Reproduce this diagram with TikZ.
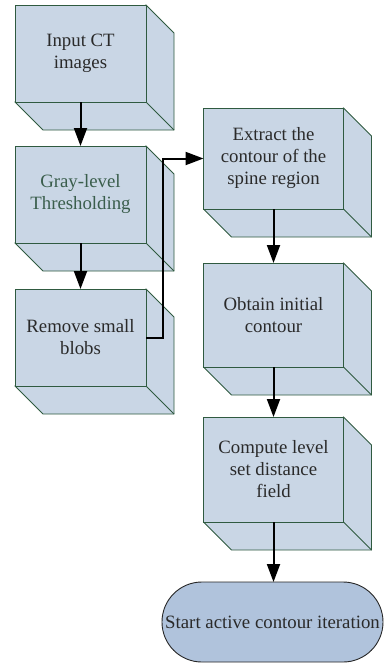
\documentclass[tikz,border=0pt]{standalone}
\usepackage{fontspec}
\setmainfont{Liberation Serif}
\usetikzlibrary{arrows.meta,backgrounds}

\definecolor{facefill}{HTML}{C9D6E5}
\definecolor{faceedge}{HTML}{2F5A40}
\definecolor{termfill}{HTML}{B0C3DC}
\definecolor{bodytext}{HTML}{2A2A2A}
\definecolor{greentext}{HTML}{3A5E4C}

\tikzset{
  stepbox/.style={draw=faceedge, fill=facefill, line width=0.9pt, outer sep=0pt,
    inner sep=2pt, align=center, text=bodytext,
    font=\fontsize{18.8}{22}\selectfont},
  sideface/.style={draw=faceedge, fill=facefill, line width=0.9pt, line join=miter},
  termbox/.style={draw=black!85, fill=termfill, line width=0.9pt, outer sep=0pt,
    rounded corners=39.9pt, inner sep=0pt, text=bodytext,
    font=\fontsize{18.8}{22}\selectfont},
  flow/.style={draw=black, line width=2pt,
    -{Triangle[length=18pt,width=13pt]}},
}

% back faces of an extruded box, offset down and to the right
\newcommand{\extrudebox}[1]{%
  \path[sideface] (#1.north east) -- ([shift={(28pt,-28pt)}]#1.north east)
    -- ([shift={(28pt,-28pt)}]#1.south east)
    -- ([shift={(28pt,-28pt)}]#1.south west) -- (#1.south west) -- cycle;
  \draw[faceedge, line width=0.9pt] (#1.south east) -- ([shift={(28pt,-28pt)}]#1.south east);
}

\begin{document}
\begin{tikzpicture}[x=1pt, y=-1pt]
  \useasboundingbox (0,0) rectangle (384,664);

  % left column
  \node[stepbox, minimum width=131pt, minimum height=97pt] (input) at (80.5,53.5) {Input CT\\images};
  \node[stepbox, minimum width=131pt, minimum height=97pt, text=greentext] (gray) at (80.5,194.5) {Gray-level\\Thresholding};
  \node[stepbox, minimum width=131pt, minimum height=97pt] (blobs) at (80.5,337.5) {Remove small\\blobs};

  % right column
  \node[stepbox, minimum width=140pt, minimum height=101pt] (extract) at (273.5,158.5) {Extract the\\contour of the\\spine region};
  \node[stepbox, minimum width=140pt, minimum height=104pt] (initial) at (273.5,315) {Obtain initial\\contour};
  \node[stepbox, minimum width=140pt, minimum height=105pt] (level) at (273.5,469.5) {Compute level\\set distance\\field};

  % terminator
  \node[termbox, minimum width=221pt, minimum height=80pt] (start) at (272.5,622) {Start active contour iteration};

  \begin{pgfonlayer}{background}
    \foreach \n in {input,gray,blobs,extract,initial,level} {\extrudebox{\n}}
  \end{pgfonlayer}

  % connectors
  \draw[flow] (input.south) -- (gray.north);
  \draw[flow] (gray.south) -- (blobs.north);
  \draw[flow] (blobs.east) -- ++(16.5pt,0pt) |- (extract.west);
  \draw[flow] (extract.south) -- (initial.north);
  \draw[flow] (initial.south) -- (level.north);
  \draw[flow] (level.south) -- (level.south |- start.north);
\end{tikzpicture}
\end{document}
